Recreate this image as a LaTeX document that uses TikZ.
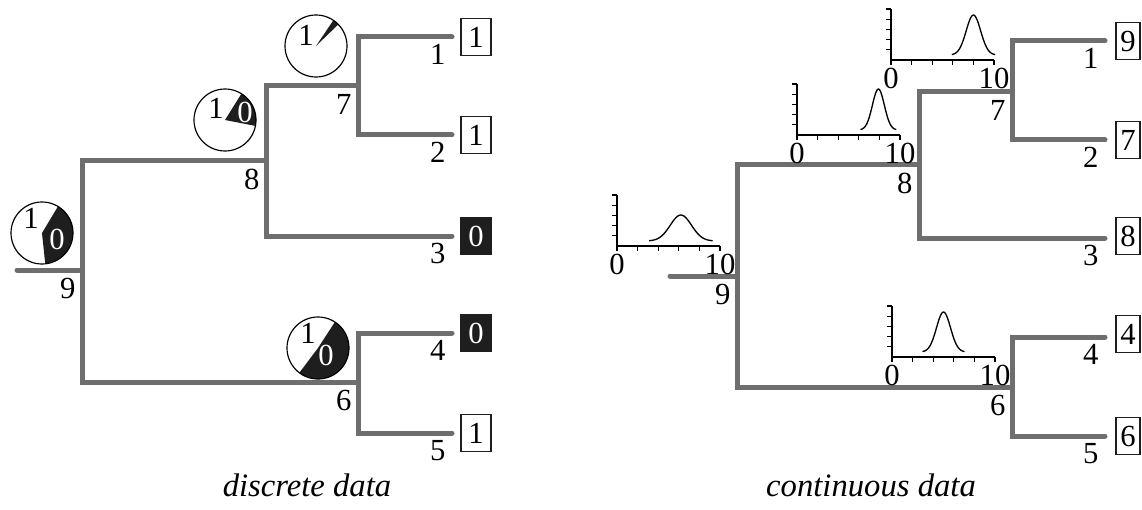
\documentclass[tikz,border=0pt]{standalone}
\usepackage{fontspec}
\setmainfont{Liberation Serif}
\usepackage{xcolor}

\definecolor{branch}{HTML}{6E6E6E}
\definecolor{ink}{HTML}{1E1E1E}

\tikzset{
  branchline/.style={draw=branch,line width=1.5pt,line cap=round,line join=miter},
  lbl/.style={inner sep=0pt,font=\fontsize{9.2}{10}\selectfont},
  nodelbl/.style={lbl,anchor=north east},
  statebox/.style={lbl,draw=ink,line width=0.35pt,minimum width=9pt,minimum height=11pt},
  stateblack/.style={statebox,fill=ink,text=white},
  valuebox/.style={statebox,minimum width=7.2pt},
  caption/.style={lbl,font=\fontsize{9.8}{11}\selectfont\itshape},
}

% pie of state probabilities: x, y, black from angle, to angle
\newcommand{\statepie}[4]{%
  \fill[white] (#1,#2) circle (31);
  \fill[ink] (#1,#2) -- ++(#3:31) arc (#3:#4:31) -- cycle;
  \draw[line width=0.35pt] (#1,#2) circle (31);
}

% small density plot: origin x, origin y, mean, sd, peak, name
\newcommand{\densplot}[6]{%
  \pgfmathsetmacro\dlo{#3-3*#4}%
  \pgfmathsetmacro\dhi{#3+3*#4}%
  \draw[line width=0.4pt] (#1,#2+51) -- (#1,#2) -- (#1+103,#2);
  \foreach \k in {1,...,5} \draw[line width=0.4pt] (#1,#2+10.2*\k) -- ++(-5,0);
  \foreach \k in {0,...,5} \draw[line width=0.4pt] (#1+20.6*\k,#2) -- ++(0,-5);
  \draw[line width=0.4pt,smooth,samples=41,domain=\dlo:\dhi]
    plot ({#1+10.3*\x},{#2+5+#5*exp(-(\x-#3)*(\x-#3)/(2*#4*#4))});
  \node[lbl,anchor=north] (#6-lo) at (#1,#2-7) {0};
  \node[lbl,anchor=north] (#6-hi) at (#1+103,#2-7) {10};
}

\begin{document}
\begin{tikzpicture}[x=0.3pt,y=0.3pt]
\useasboundingbox (0,0) rectangle (1142,-509);

% discrete data
\coordinate (droot) at (17,-270);
\coordinate (d9) at (82,-270);
\coordinate (d8) at (266,-160);
\coordinate (d7) at (358,-86);
\coordinate (d6) at (358,-382);
\coordinate (d1) at (452,-37);
\coordinate (d2) at (452,-135);
\coordinate (d3) at (452,-236);
\coordinate (d4) at (452,-333);
\coordinate (d5) at (452,-433);

\draw[branchline] (droot) -- (d9);
\draw[branchline] (d9) |- (d8);
\draw[branchline] (d9) |- (d6);
\draw[branchline] (d8) |- (d7);
\draw[branchline] (d8) |- (d3);
\draw[branchline] (d7) |- (d1);
\draw[branchline] (d7) |- (d2);
\draw[branchline] (d6) |- (d4);
\draw[branchline] (d6) |- (d5);

\foreach \n in {9,8,7,6}
  \node[nodelbl] (dl\n) at ([shift={(-6,-8)}]d\n) {\n};
\foreach \n in {1,...,5}
  \node[nodelbl] (dl\n) at ([shift={(-6,-7)}]d\n) {\n};

\node[statebox] (ds1) at (476,-37) {1};
\node[statebox] (ds2) at (476,-135) {1};
\node[stateblack] (ds3) at (476,-236) {0};
\node[stateblack] (ds4) at (476,-333) {0};
\node[statebox] (ds5) at (476,-433) {1};

\statepie{42}{-233}{-84}{59}
\node[lbl] (dp9a) at (31,-218) {1};
\node[lbl,text=white] (dp9b) at (57,-239) {0};
\statepie{225}{-120}{-11}{58}
\node[lbl] (dp8a) at (216,-108) {1};
\node[lbl,text=white] (dp8b) at (245,-112) {0};
\statepie{316}{-46}{44}{56}
\node[lbl] (dp7a) at (306,-35) {1};
\statepie{318}{-348}{-127}{57}
\node[lbl] (dp6a) at (308,-333) {1};
\node[lbl,text=white] (dp6b) at (326,-355) {0};

\node[caption] (dcap) at (307,-485) {discrete data};

% continuous data
\coordinate (croot) at (670,-276);
\coordinate (c9) at (737,-276);
\coordinate (c8) at (919,-164);
\coordinate (c7) at (1012,-92);
\coordinate (c6) at (1012,-387);
\coordinate (c1) at (1105,-41);
\coordinate (c2) at (1105,-140);
\coordinate (c3) at (1105,-238);
\coordinate (c4) at (1105,-337);
\coordinate (c5) at (1105,-436);

\draw[branchline] (croot) -- (c9);
\draw[branchline] (c9) |- (c8);
\draw[branchline] (c9) |- (c6);
\draw[branchline] (c8) |- (c7);
\draw[branchline] (c8) |- (c3);
\draw[branchline] (c7) |- (c1);
\draw[branchline] (c7) |- (c2);
\draw[branchline] (c6) |- (c4);
\draw[branchline] (c6) |- (c5);

\foreach \n in {9,8,7,6}
  \node[nodelbl] (cl\n) at ([shift={(-6,-8)}]c\n) {\n};
\foreach \n in {1,...,5}
  \node[nodelbl] (cl\n) at ([shift={(-6,-7)}]c\n) {\n};

\node[valuebox] (cv1) at (1128,-41) {9};
\node[valuebox] (cv2) at (1128,-140) {7};
\node[valuebox] (cv3) at (1128,-236) {8};
\node[valuebox] (cv4) at (1128,-334) {4};
\node[valuebox] (cv5) at (1128,-436) {6};

\densplot{617}{-246}{6.2}{1.03}{26}{cp9}
\densplot{797}{-135}{7.9}{0.58}{41}{cp8}
\densplot{891}{-60}{8.0}{0.7}{40}{cp7}
\densplot{892}{-357}{5.0}{0.68}{40}{cp6}

\node[caption] (ccap) at (871,-485) {continuous data};
\end{tikzpicture}
\end{document}
